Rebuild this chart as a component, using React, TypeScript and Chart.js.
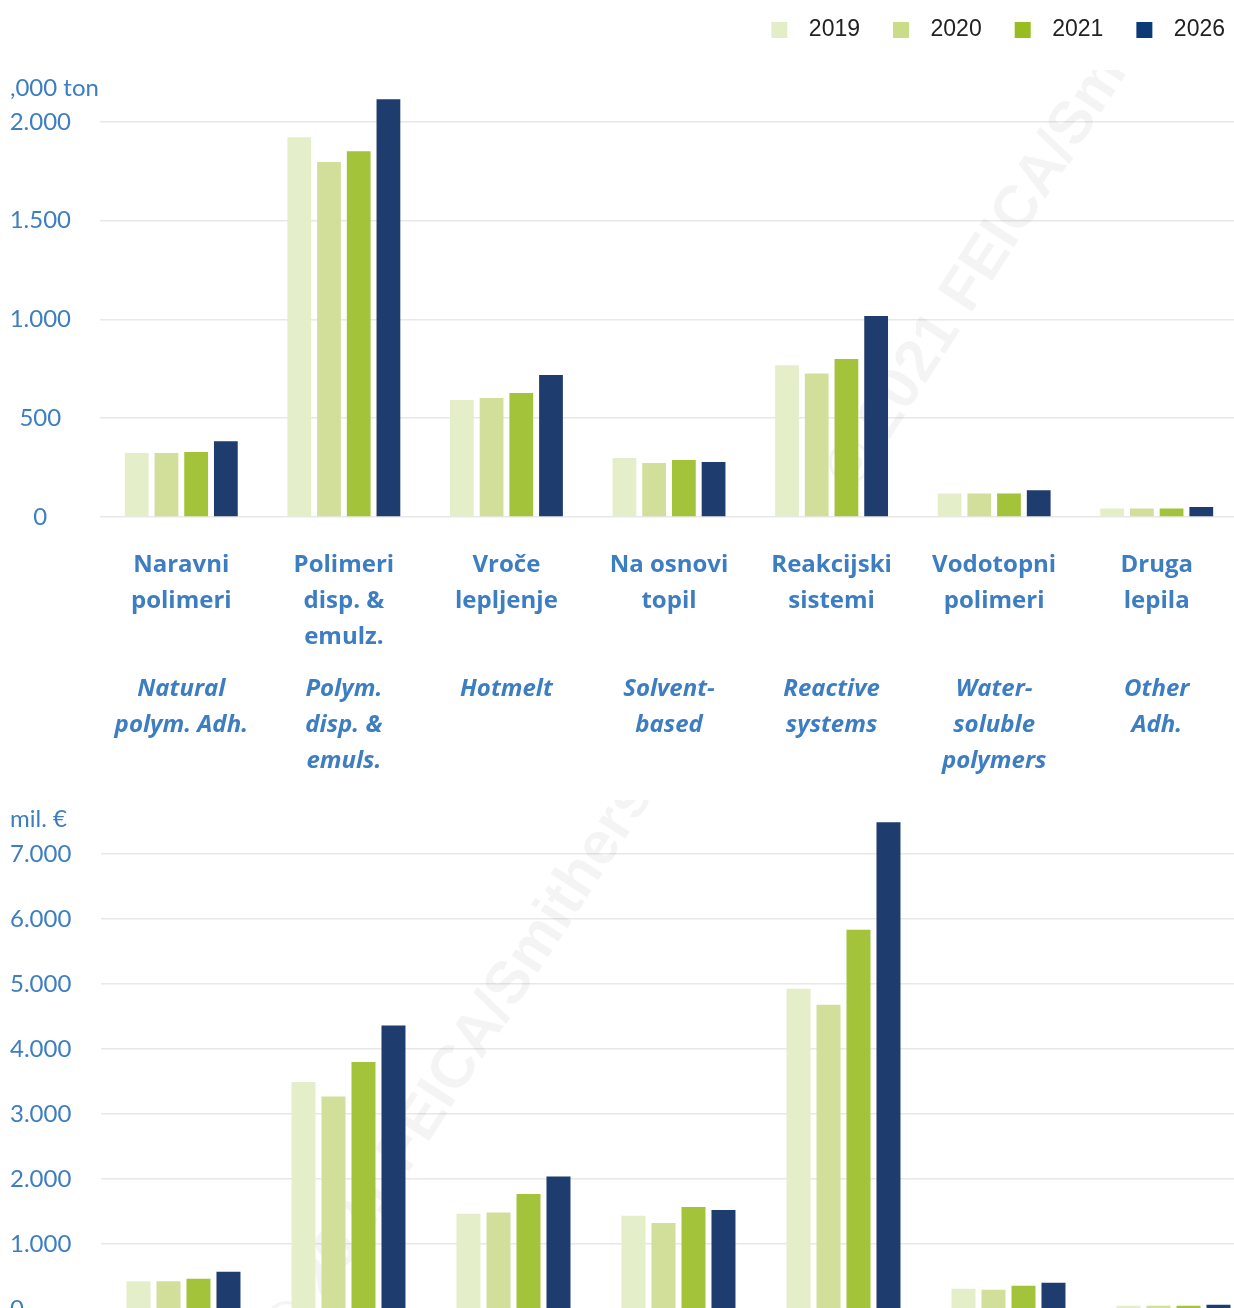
import React, { useEffect, useRef } from "react";
import { Chart, registerables } from "chart.js";

Chart.register(...registerables);

// ---------- data ----------
const years = ["2019", "2020", "2021", "2026"];

const categoriesSl = [
  ["Naravni", "polimeri"],
  ["Polimeri", "disp. &", "emulz."],
  ["Vroče", "lepljenje"],
  ["Na osnovi", "topil"],
  ["Reakcijski", "sistemi"],
  ["Vodotopni", "polimeri"],
  ["Druga", "lepila"],
];

const categoriesEn = [
  ["Natural", "polym. Adh."],
  ["Polym.", "disp. &", "emuls."],
  ["Hotmelt"],
  ["Solvent-", "based"],
  ["Reactive", "systems"],
  ["Water-", "soluble", "polymers"],
  ["Other", "Adh."],
];

// volume, ,000 ton
const volume2019 = [324, 1923, 592, 299, 768, 119, 43];
const volume2020 = [324, 1797, 602, 273, 727, 119, 43];
const volume2021 = [329, 1852, 628, 288, 800, 119, 43];
const volume2026 = [383, 2115, 719, 278, 1018, 135, 50];

// value, mil. €
const value2019 = [425, 3492, 1466, 1435, 4928, 312, 50];
const value2020 = [425, 3271, 1486, 1323, 4682, 297, 50];
const value2021 = [466, 3800, 1769, 1569, 5835, 358, 50];
const value2026 = [574, 4363, 2040, 1523, 7490, 405, 65];

const volumeTicks = [0, 500, 1000, 1500, 2000];
const valueTicks = [0, 1000, 2000, 3000, 4000, 5000, 6000, 7000];

const volumeSeries = [volume2019, volume2020, volume2021, volume2026];
const valueSeries = [value2019, value2020, value2021, value2026];

const volumeUnit = ",000 ton";
const valueUnit = "mil. €";
const watermarkText = "© 2021 FEICA/Smithers";

// ---------- styles ----------
const barColors = ["#e4efca", "#d1df9b", "#a2c33a", "#1e3c6e"];
const legendColors = ["#e2eec8", "#c9dc87", "#97bd1e", "#0b3b76"];
const BLUE = "#3d7dc2";
const FONT = "Lato, 'Open Sans', sans-serif";
const LABEL_FONT = "'Open Sans', 'Noto Sans', sans-serif";
const LEGEND_FONT = "'Liberation Sans', Arial, sans-serif";

function fmt(v: number | string): string {
  return String(v).replace(/\B(?=(\d{3})+(?!\d))/g, ".");
}

function makeSwatch(color: string): HTMLCanvasElement {
  const c = document.createElement("canvas");
  c.width = 46;
  c.height = 16;
  const ctx = c.getContext("2d");
  if (ctx) {
    ctx.fillStyle = color;
    ctx.fillRect(20, 0, 16, 16);
  }
  return c;
}

function watermarkPlugin(x: number, y: number, clipTop: number) {
  return {
    id: "watermark",
    beforeDatasetsDraw(chart: any) {
      const ctx = chart.ctx;
      ctx.save();
      ctx.beginPath();
      ctx.rect(0, clipTop, chart.width, chart.height - clipTop);
      ctx.clip();
      ctx.translate(x, y);
      ctx.rotate((-57 * Math.PI) / 180);
      ctx.font = "bold 60px 'Liberation Sans', Arial, sans-serif";
      ctx.fillStyle = "rgba(0,0,0,0.045)";
      ctx.textBaseline = "alphabetic";
      ctx.textAlign = "left";
      ctx.fillText(watermarkText, 0, 0);
      ctx.restore();
    },
  };
}

export default function App() {
  const topRef = useRef<HTMLCanvasElement | null>(null);
  const bottomRef = useRef<HTMLCanvasElement | null>(null);

  useEffect(() => {
    if (!topRef.current || !bottomRef.current) return;
    const swatches = legendColors.map(makeSwatch);

    const topChart = new Chart(topRef.current, {
      type: "bar",
      data: {
        labels: categoriesSl as any,
        datasets: years.map((y, i) => ({
          label: y,
          data: volumeSeries[i],
          backgroundColor: barColors[i],
          borderWidth: 0,
          barPercentage: 0.8,
          categoryPercentage: 0.731,
          xAxisID: "x",
          yAxisID: "y",
        })),
      },
      options: {
        animation: false,
        responsive: false,
        maintainAspectRatio: false,
        layout: { padding: { top: 5.5, left: 10, right: 0, bottom: 11 } },
        plugins: {
          legend: {
            display: true,
            position: "top",
            align: "end",
            weight: 3000,
            labels: {
              font: { family: LEGEND_FONT, size: 23 },
              color: "#222222",
              padding: 13,
              usePointStyle: true,
              pointStyleWidth: 46,
              boxHeight: 16,
              generateLabels: (chart: any) => {
                const items = (Chart.defaults.plugins.legend.labels as any).generateLabels(chart);
                return items.map((it: any, i: number) => ({ ...it, pointStyle: swatches[i] }));
              },
            },
          },
          title: {
            display: true,
            text: volumeUnit,
            align: "start",
            color: BLUE,
            font: { family: FONT, size: 24, weight: "normal", lineHeight: 0.1 },
            padding: { top: 35.3, bottom: 0 },
          },
          tooltip: { enabled: false },
        },
        scales: {
          x: {
            type: "category",
            position: "bottom",
            offset: true,
            grid: { display: false, drawTicks: false, tickLength: 0 },
            border: { display: false },
            ticks: {
              color: BLUE,
              font: { family: LABEL_FONT, size: 24, weight: "bold", lineHeight: 1.5 },
              padding: 30,
              maxRotation: 0,
              minRotation: 0,
              autoSkip: false,
            },
            afterFit: (s: any) => {
              s.height = 138;
            },
          },
          x2: {
            type: "category",
            position: "bottom",
            labels: categoriesEn as any,
            offset: true,
            weight: 1,
            grid: { display: false, drawTicks: false, tickLength: 0 },
            border: { display: false },
            ticks: {
              color: BLUE,
              font: { family: LABEL_FONT, size: 24, weight: "bold", style: "italic", lineHeight: 1.5 },
              padding: 16,
              maxRotation: 0,
              minRotation: 0,
              autoSkip: false,
            },
            afterFit: (s: any) => {
              s.height = 124;
            },
          },
          y: {
            min: 0,
            max: 2166,
            grid: { color: "#e8e8e8", lineWidth: 1.5, drawTicks: false, tickLength: 0 },
            border: { display: false },
            ticks: {
              color: BLUE,
              font: { family: FONT, size: 24 },
              padding: 29,
              crossAlign: "center",
              callback: (v: any) => fmt(v),
            },
            afterBuildTicks: (s: any) => {
              s.ticks = volumeTicks.map((v) => ({ value: v }));
            },
            afterFit: (s: any) => {
              s.width = 90;
            },
          },
        },
      } as any,
      plugins: [watermarkPlugin(855, 492, 70)],
    });

    const bottomChart = new Chart(bottomRef.current, {
      type: "bar",
      data: {
        labels: categoriesSl as any,
        datasets: years.map((y, i) => ({
          label: y,
          data: valueSeries[i],
          backgroundColor: barColors[i],
          borderWidth: 0,
          barPercentage: 0.8,
          categoryPercentage: 0.727,
        })),
      },
      options: {
        animation: false,
        responsive: false,
        maintainAspectRatio: false,
        layout: { padding: { top: 0, left: 10, right: 4, bottom: 21 } },
        plugins: {
          legend: { display: false },
          title: {
            display: true,
            text: valueUnit,
            align: "start",
            color: BLUE,
            font: { family: FONT, size: 24, weight: "normal", lineHeight: 0.1 },
            padding: { top: 27.8, bottom: -3 },
          },
          tooltip: { enabled: false },
        },
        scales: {
          x: {
            display: false,
            offset: true,
          },
          y: {
            min: 0,
            max: 7566,
            grid: { color: "#e8e8e8", lineWidth: 1.5, drawTicks: false, tickLength: 0 },
            border: { display: false },
            ticks: {
              color: BLUE,
              font: { family: FONT, size: 24 },
              padding: 0,
              crossAlign: "far",
              callback: (v: any) => fmt(v),
            },
            afterBuildTicks: (s: any) => {
              s.ticks = valueTicks.map((v) => ({ value: v }));
            },
            afterFit: (s: any) => {
              s.width = 91;
            },
          },
        },
      } as any,
      plugins: [watermarkPlugin(292, 562, 10)],
    });

    return () => {
      topChart.destroy();
      bottomChart.destroy();
    };
  }, []);

  return (
    <div
      style={{
        position: "absolute",
        left: 0,
        top: 0,
        width: 1234,
        height: 1308,
        overflow: "hidden",
        background: "#ffffff",
      }}
    >
      <canvas
        ref={topRef}
        width={1238}
        height={790}
        style={{ position: "absolute", left: 0, top: 0, width: 1238, height: 790 }}
      />
      <canvas
        ref={bottomRef}
        width={1260}
        height={540}
        style={{ position: "absolute", left: 0, top: 790, width: 1260, height: 540 }}
      />
    </div>
  );
}
